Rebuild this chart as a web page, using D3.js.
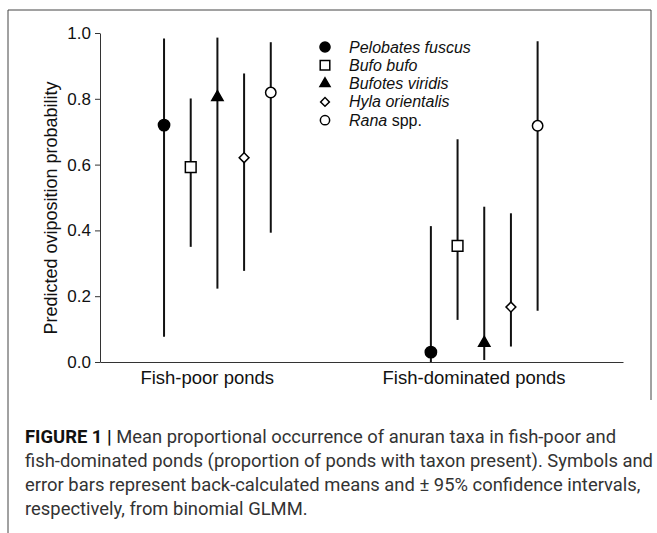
<!DOCTYPE html>
<html>
<head>
<meta charset="utf-8">
<script src="https://cdn.jsdelivr.net/npm/d3@7"></script>
<style>
  body { margin: 0; background: #fff; }
  svg { display: block; }
</style>
</head>
<body>
<div id="chart"></div>
<script>
// data
const categories = ["Fish-poor ponds", "Fish-dominated ponds"];
const species = ["Pelobates fuscus", "Bufo bufo", "Bufotes viridis", "Hyla orientalis", "Rana spp."];
const meanPoor  = [0.720, 0.592, 0.805, 0.621, 0.819];
const lowerPoor = [0.077, 0.350, 0.223, 0.277, 0.393];
const upperPoor = [0.983, 0.801, 0.986, 0.877, 0.972];
const meanDom   = [0.030, 0.353, 0.058, 0.167, 0.718];
const lowerDom  = [0.000, 0.128, 0.006, 0.047, 0.156];
const upperDom  = [0.413, 0.677, 0.472, 0.452, 0.975];
const yTicks = [0, 0.2, 0.4, 0.6, 0.8, 1.0];
const captionLines = [
  "Mean proportional occurrence of anuran taxa in fish-poor and",
  "fish-dominated ponds (proportion of ponds with taxon present). Symbols and",
  "error bars represent back-calculated means and \u00b1 95% confidence intervals,",
  "respectively, from binomial GLMM."
];

const W = 657, H = 533;
const font = "'Liberation Sans', Arial, sans-serif";

const svg = d3.select("#chart").append("svg")
  .attr("width", W).attr("height", H);
svg.append("rect").attr("width", W).attr("height", H).attr("fill", "#fff");

// frame
svg.append("path")
  .attr("d", "M8,533 V10 H651 V400")
  .attr("fill", "none").attr("stroke", "#444").attr("stroke-width", 1);

// scales
const x = d3.scaleLinear().domain([0.6, 2.56]).range([100, 623]);
const xOff = d3.scalePoint().domain(species).range([-0.16, 0.24]);
const y = d3.scaleLinear().domain([0, 1]).range([362, 33]);

// build rows
const rows = [];
categories.forEach((c, ci) => {
  const m = ci === 0 ? meanPoor : meanDom;
  const lo = ci === 0 ? lowerPoor : lowerDom;
  const hi = ci === 0 ? upperPoor : upperDom;
  species.forEach((s, si) => {
    rows.push({ cat: ci + 1, sp: s, si: si, mean: m[si], lo: lo[si], hi: hi[si] });
  });
});

// axes
const yAxis = svg.append("g")
  .attr("transform", "translate(100,0)")
  .call(d3.axisLeft(y).tickValues(yTicks).tickFormat(d3.format(".1f")).tickSize(5).tickSizeOuter(0));
yAxis.select(".domain").attr("stroke", "#333");
yAxis.selectAll(".tick line").attr("stroke", "#333");
yAxis.selectAll(".tick text")
  .attr("font-family", font).attr("font-size", 17).attr("fill", "#111").attr("x", -9);

const xAxis = svg.append("g")
  .attr("transform", "translate(0,362)")
  .call(d3.axisBottom(x).tickValues([1, 2]).tickFormat((d) => categories[d - 1]).tickSize(0).tickSizeOuter(0));
xAxis.select(".domain").attr("stroke", "#333");
xAxis.selectAll(".tick text")
  .attr("font-family", font).attr("font-size", 18.5).attr("fill", "#111").attr("dy", "0.71em").attr("y", 9);

svg.append("text")
  .attr("transform", "translate(57,208) rotate(-90)")
  .attr("text-anchor", "middle")
  .attr("font-family", font).attr("font-size", 18).attr("fill", "#111")
  .text("Predicted oviposition probability");

// symbols
const symbolFor = [
  { type: d3.symbolCircle, size: 100, fill: "#000", rot: 0 },
  { type: d3.symbolSquare, size: 115, fill: "#fff", rot: 0 },
  { type: d3.symbolTriangle, size: 55, fill: "#000", rot: 0 },
  { type: d3.symbolSquare, size: 48, fill: "#fff", rot: 45 },
  { type: d3.symbolCircle, size: 85, fill: "#fff", rot: 0 }
];

const px = (d) => x(d.cat + xOff(d.sp));

// error bars
svg.append("g").selectAll("line")
  .data(rows).enter().append("line")
  .attr("x1", px).attr("x2", px)
  .attr("y1", (d) => y(d.lo)).attr("y2", (d) => y(d.hi))
  .attr("stroke", "#111").attr("stroke-width", 2);

// points
svg.append("g").selectAll("path")
  .data(rows).enter().append("path")
  .attr("d", (d) => d3.symbol().type(symbolFor[d.si].type).size(symbolFor[d.si].size)())
  .attr("transform", (d) => "translate(" + px(d) + "," + y(d.mean) + ") rotate(" + symbolFor[d.si].rot + ")")
  .attr("fill", (d) => symbolFor[d.si].fill)
  .attr("stroke", "#000").attr("stroke-width", 1.5);

// legend
const legend = svg.append("g").attr("transform", "translate(325,47)");
const item = legend.selectAll("g").data(species).enter().append("g")
  .attr("transform", (d, i) => "translate(0," + i * 18.3 + ")");
item.append("path")
  .attr("d", (d, i) => d3.symbol().type(symbolFor[i].type).size(symbolFor[i].size * 0.8)())
  .attr("transform", (d, i) => "rotate(" + symbolFor[i].rot + ")")
  .attr("fill", (d, i) => symbolFor[i].fill)
  .attr("stroke", "#000").attr("stroke-width", 1.5);
const lt = item.append("text")
  .attr("x", 24).attr("y", 5.5)
  .attr("font-family", font).attr("font-size", 16).attr("fill", "#111");
lt.each(function (d) {
  const t = d3.select(this);
  if (d === "Rana spp.") {
    t.append("tspan").attr("font-style", "italic").text("Rana");
    t.append("tspan").text(" spp.");
  } else {
    t.append("tspan").attr("font-style", "italic").text(d);
  }
});

// caption
const cap = svg.append("g").attr("font-family", "Roboto, sans-serif")
  .attr("font-size", 18.4).attr("fill", "#333");
captionLines.forEach((line, i) => {
  const t = cap.append("text").attr("x", 25).attr("y", 443 + i * 24);
  if (i === 0) {
    t.append("tspan").attr("font-weight", "bold").attr("fill", "#111").text("FIGURE 1 | ");
  }
  t.append("tspan").text(line);
});
</script>
</body>
</html>
